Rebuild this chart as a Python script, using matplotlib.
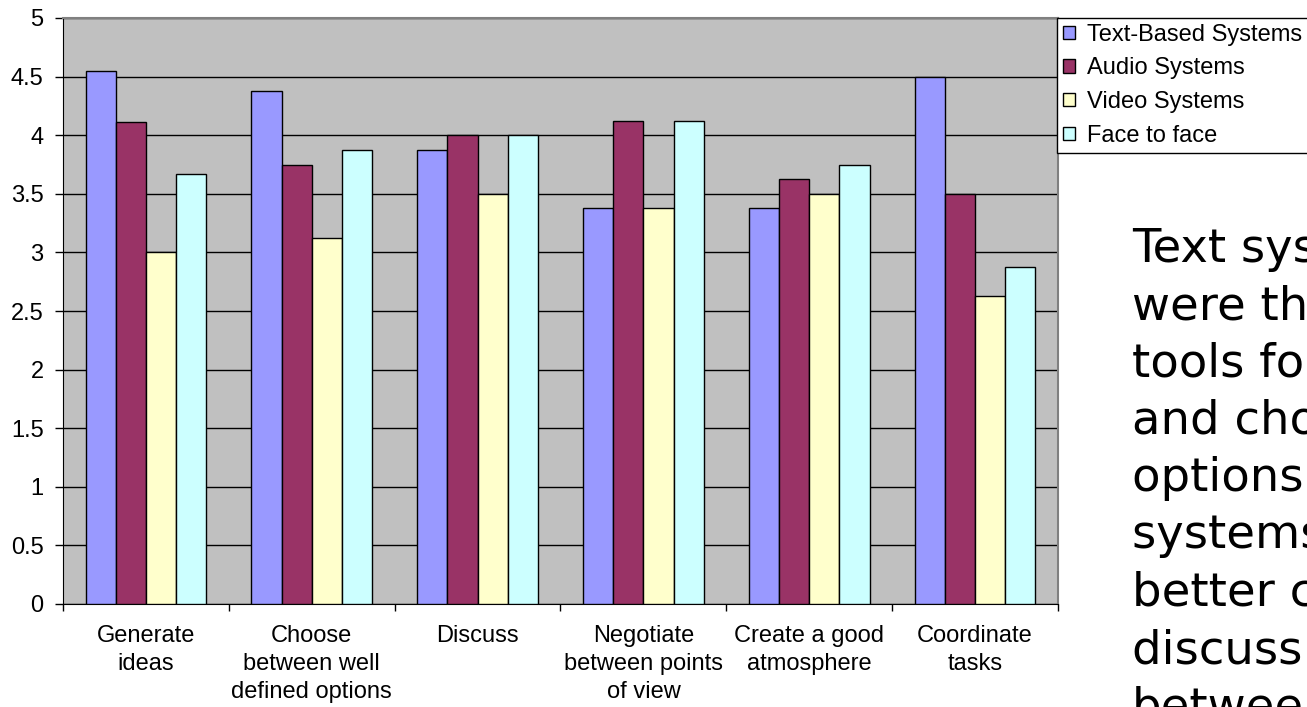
import matplotlib
matplotlib.use("Agg")
import matplotlib.pyplot as plt
import numpy as np
from matplotlib.patches import Patch

categories = ["Generate\nideas", "Choose\nbetween well\ndefined options", "Discuss",
              "Negotiate\nbetween points\nof view", "Create a good\natmosphere", "Coordinate\ntasks"]
series_names = ["Text-Based Systems", "Audio Systems", "Video Systems", "Face to face"]
text_based = [4.55, 4.375, 3.875, 3.375, 3.375, 4.5]
audio = [4.11, 3.75, 4.0, 4.125, 3.625, 3.5]
video = [3.0, 3.125, 3.5, 3.375, 3.5, 2.625]
face = [3.667, 3.875, 4.0, 4.125, 3.75, 2.875]
colors = ["#9999FF", "#993366", "#FFFFCC", "#CCFFFF"]
side_text = ["Text systems", "were the best", "tools for ideas", "and choosing", "options. Audio",
             "systems were", "better choice to", "discuss and", "between"]

plt.rcParams['font.family'] = ['Liberation Sans', 'DejaVu Sans']
FS = 17

W, H = 1307, 707
fig = plt.figure(figsize=(W / 100, H / 100), dpi=100)
ax = fig.add_axes([63 / W, 1 - 604 / H, (1058 - 63) / W, (604 - 18) / H])
ax.set_facecolor("#C0C0C0")

n = len(categories)
x = np.arange(n)
bw = 0.182
data = [text_based, audio, video, face]
for i, (vals, c) in enumerate(zip(data, colors)):
    ax.bar(x + (i - 1.5) * bw, vals, width=bw, color=c, edgecolor="black", linewidth=1, zorder=3)

ax.set_xlim(-0.5, n - 0.5)
ax.set_ylim(0, 5)
ax.set_yticks(np.arange(0, 5.01, 0.5))
ax.set_yticklabels(["0", "0.5", "1", "1.5", "2", "2.5", "3", "3.5", "4", "4.5", "5"], fontsize=FS)
ax.yaxis.grid(True, color="black", linewidth=1, zorder=1)
ax.set_axisbelow(True)

ax.set_xticks(np.arange(-0.5, n, 1.0))
ax.set_xticklabels([])
ax.set_xticks(x, minor=True)
ax.set_xticklabels(categories, minor=True, fontsize=FS, linespacing=1.36, va="top")
ax.tick_params(axis="x", which="minor", length=0, pad=15)
ax.tick_params(axis="x", which="major", length=5, width=1, color="black")
ax.tick_params(axis="y", length=6, width=1, color="black", pad=8)

for s in ["top", "right"]:
    ax.spines[s].set_color("#808080")
    ax.spines[s].set_linewidth(1.5)
ax.spines["left"].set_color("black")
ax.spines["bottom"].set_color("black")

handles = [Patch(facecolor=c, edgecolor="black", linewidth=1) for c in colors]
leg = fig.legend(handles, series_names, loc="upper left",
                 bbox_to_anchor=(1057 / W, 1 - 18 / H), fontsize=FS,
                 frameon=True, fancybox=False, shadow=False, framealpha=1,
                 edgecolor="black", handlelength=0.5, handleheight=0.5,
                 handletextpad=0.5, labelspacing=0.49, borderpad=0.25,
                 borderaxespad=0)
leg.get_frame().set_linewidth(1)

for k, line in enumerate(side_text):
    fig.text(1132 / W, 1 - (262 + k * 57.3) / H, line, fontsize=33.5,
             family="DejaVu Sans", va="baseline", ha="left", color="black")

fig.savefig("out.png", dpi=100, facecolor="white")
